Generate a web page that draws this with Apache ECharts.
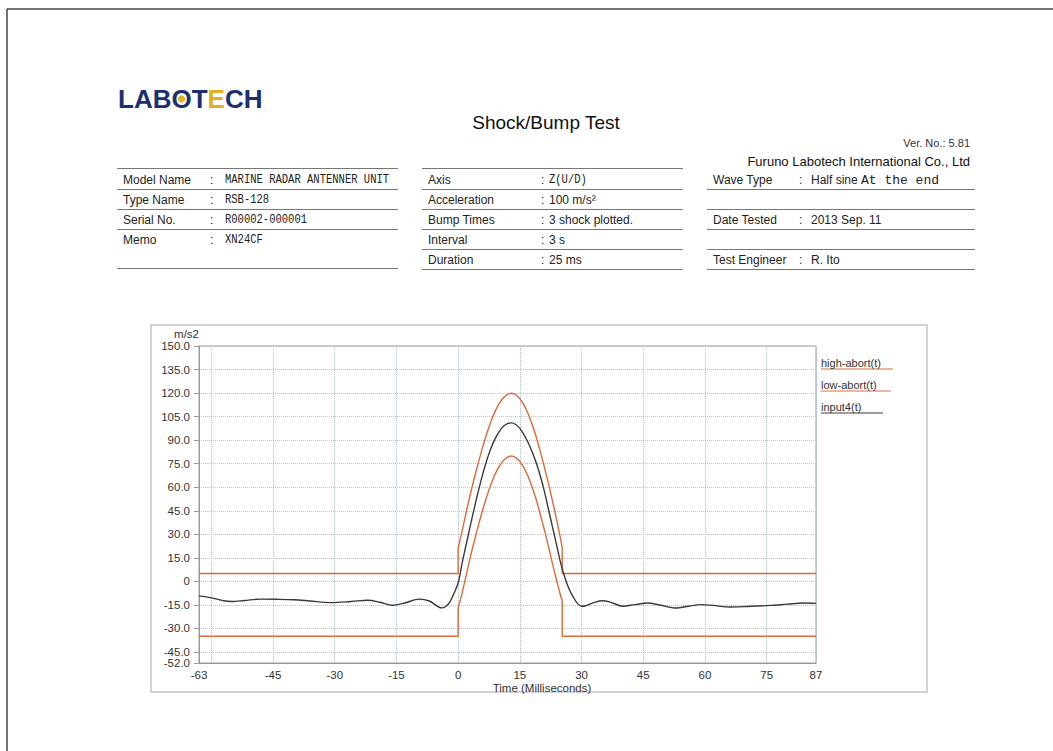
<!DOCTYPE html>
<html><head><meta charset="utf-8">
<script src="https://cdn.jsdelivr.net/npm/echarts@6/dist/echarts.min.js"></script>
<style>html,body{margin:0;padding:0;background:#fff}#c{width:1053px;height:751px}</style>
</head><body><div id="c"></div><script>
// ---- axis ticks ----
const xLabelTicks = [-63, -45, -30, -15, 0, 15, 30, 45, 60, 75, 87];
const xGridTicks = [-63, -60, -45, -30, -15, 0, 15, 30, 45, 60, 75, 87];
const yTicks = [-52, -45, -30, -15, 0, 15, 30, 45, 60, 75, 90, 105, 120, 135, 150];
const yLabelTicks = [-45, -30, -15, 0, 15, 30, 45, 60, 75, 90, 105, 120, 135, 150];
const yMinLabel = [-52];

// ---- series: high-abort(t) ----
const highTime = [-63, 0, 0, 1, 2, 3, 4, 5, 6, 7, 8, 9, 10, 11, 12, 13, 14, 15, 16, 17, 18, 19, 20, 21, 22, 23, 24, 25, 25.3, 25.3, 87];
const highValues = [5, 5, 21, 32.5, 44.5, 56, 66.5, 76.5, 86, 94.5, 102, 108.5, 113.5, 117, 119.3, 120, 119, 116.5, 112.5, 107, 100, 92, 82.5, 72.5, 62, 50.5, 38.5, 26, 21.5, 5, 5];

// ---- series: low-abort(t) ----
const lowTime = [-63, 0, 0, 1, 2, 3, 4, 5, 6, 7, 8, 9, 10, 11, 12, 13, 14, 15, 16, 17, 18, 19, 20, 21, 22, 23, 24, 25, 25.3, 25.3, 87];
const lowValues = [-35, -35, -17, -7, 4.5, 16, 26.5, 36.5, 46, 54.5, 62, 68.5, 73.5, 77, 79.3, 80, 79, 76.5, 72.5, 67, 60, 52, 42.5, 32.5, 22, 10.5, 0, -10, -12, -35, -35];

// ---- series: input4(t) ----
const inputTime = [-63, -60, -57, -55, -52, -48, -44, -40, -36, -31, -26, -22, -19, -16, -13, -9.5, -7, -4, -3, -2, -1, 0, 1, 2, 3, 4, 5, 6, 7, 8, 9, 10, 11, 12, 13, 14, 15, 16, 17, 18, 19, 20, 21, 22, 23, 24, 25, 26, 27, 28, 29, 30, 31, 33, 35, 37, 40, 43, 46, 49, 53, 56, 59, 62, 66, 70, 76, 80, 84, 87];
const inputValues = [-9.2, -10.5, -12.3, -12.8, -12.2, -11.3, -11.4, -11.7, -12.5, -13.5, -12.8, -12, -13.3, -15.2, -13.8, -11.3, -12.5, -16.9, -16, -13, -7.5, -1, 12, 24, 36, 47.5, 58.5, 68.5, 77.5, 85, 91, 95.5, 98.8, 100.6, 101, 100, 97.5, 93.5, 88.5, 82.5, 75.5, 67, 57, 45.5, 34, 22.5, 11, 2, -5, -10, -14, -15.8, -15.5, -13.5, -12.3, -13.2, -15.8, -14.8, -13.8, -15, -17, -15.8, -14.8, -15.3, -16.3, -16, -15.3, -14.5, -13.8, -14];

const seriesNames = ['high-abort(t)', 'low-abort(t)', 'input4(t)'];

// ---- header texts ----
const leftLabels = ['Model Name', 'Type Name', 'Serial No.', 'Memo'];
const leftValues = ['MARINE RADAR ANTENNER UNIT', 'RSB-128', 'R00002-000001', 'XN24CF'];
const midLabels = ['Axis', 'Acceleration', 'Bump Times', 'Interval', 'Duration'];
const midValues = ['Z(U/D)', '100 m/s²', '3 shock plotted.', '3 s', '25 ms'];
const rightLabels = ['Wave Type', '', 'Date Tested', '', 'Test Engineer'];
const rightValues = ['Half sine |At the end', '', '2013 Sep. 11', '', 'R. Ito'];
const titleText = 'Shock/Bump Test';
const versionText = 'Ver. No.: 5.81';
const companyText = 'Furuno Labotech International Co., Ltd';
const xAxisTitle = 'Time (Milliseconds)';
const yAxisTitle = 'm/s2';

const ORANGE = '#d96a3a';
const DARK = '#3a3a3a';
const SANS = '"Liberation Sans", Arial, sans-serif';
const MONO = '"Liberation Mono", monospace';

function zip(a, b) { return a.map((t, i) => [t, b[i]]); }
function T(x, y, text, o) {
  return { type: 'text', x: x, y: y, silent: true, z: 10,
    style: Object.assign({ text: text, fill: '#222', fontSize: 12, fontFamily: SANS, align: 'left', verticalAlign: 'middle' }, o || {}) };
}
function L(x1, y1, x2, y2, c, w) {
  return { type: 'line', silent: true, z: 5, shape: { x1: x1, y1: y1, x2: x2, y2: y2 }, style: { stroke: c || '#777', lineWidth: w || 1 } };
}

const g = [];
// page border
g.push(L(7, 9, 1053, 9, '#444', 1.5));
g.push(L(7, 9, 7, 751, '#444', 1.5));
// chart box
g.push({ type: 'rect', silent: true, z: 0, shape: { x: 151, y: 325, width: 776, height: 367 }, style: { fill: 'none', stroke: '#c4c4c4', lineWidth: 1.5 } });

// logo
g.push({ type: 'text', x: 118, y: 99, silent: true, z: 10, style: {
  text: '{n|LABOT}{y|E}{n|CH}', verticalAlign: 'middle', align: 'left',
  rich: { n: { fill: '#1c2f6e', fontSize: 26, fontWeight: 'bold', fontFamily: SANS },
          y: { fill: '#e2b025', fontSize: 26, fontWeight: 'bold', fontFamily: SANS } } } });
g.push({ type: 'circle', silent: true, z: 11, shape: { cx: 181.5, cy: 99, r: 3.6 }, style: { fill: '#e2b025' } });

// title & company
g.push(T(546, 122, titleText, { fontSize: 19, align: 'center', fill: '#111' }));
g.push(T(970, 143, versionText, { fontSize: 11, align: 'right', fill: '#333' }));
g.push(T(970, 161, companyText, { fontSize: 13, align: 'right', fill: '#111' }));

// left table
g.push(L(117, 168.5, 398, 168.5));
leftLabels.forEach((s, i) => {
  const y = 180 + 20 * i;
  g.push(T(123, y, s));
  g.push(T(210, y, ':'));
  const v = T(225, y, leftValues[i], { fontFamily: MONO, fontSize: 13.5 });
  v.scaleX = 0.78;
  g.push(v);
  if (i < 3) g.push(L(117, y + 9.5, 398, y + 9.5));
});
g.push(L(117, 268.5, 398, 268.5));

// middle table
g.push(L(422, 168.5, 683, 168.5));
midLabels.forEach((s, i) => {
  const y = 180 + 20 * i;
  g.push(T(428, y, s));
  g.push(T(541, y, ':'));
  const v = T(549, y, midValues[i], i === 0 ? { fontFamily: MONO, fontSize: 13.5 } : {});
  if (i === 0) v.scaleX = 0.78;
  g.push(v);
  g.push(L(422, y + 9.5, 683, y + 9.5));
});

// right table
rightLabels.forEach((s, i) => {
  const y = 180 + 20 * i;
  if (s) {
    g.push(T(713, y, s));
    g.push(T(799, y, ':'));
    const parts = rightValues[i].split('|');
    if (parts.length > 1) {
      g.push(T(811, y, '{a|' + parts[0] + '}{b|' + parts[1] + '}', {
        rich: { a: { fontSize: 12, fontFamily: SANS, fill: '#222' }, b: { fontSize: 13, fontFamily: MONO, fill: '#222' } } }));
    } else {
      g.push(T(811, y, parts[0]));
    }
  }
  g.push(L(707, y + 9.5, 975, y + 9.5));
});

// legend
const legendColors = [ORANGE, ORANGE, DARK];
const legendEnds = [893, 891, 883];
seriesNames.forEach((s, i) => {
  const y = 363 + 22 * i;
  g.push(T(821, y, s, { fontSize: 11, fill: '#333' }));
  g.push(L(821, y + 6, legendEnds[i], y + 6, legendColors[i], 1.2));
});

// axis titles
g.push(T(542, 688, xAxisTitle, { fontSize: 11.5, align: 'center', fill: '#333' }));

const yLabelFmt = v => (v === 0 ? '0' : v.toFixed(1));

const chart = echarts.init(document.getElementById('c'), null, { renderer: 'svg', width: 1053, height: 751 });
chart.setOption({
  backgroundColor: '#ffffff',
  animation: false,
  grid: { left: 199, right: 237, top: 346, bottom: 88, show: true, borderColor: '#9a9a9a', borderWidth: 1, outerBoundsMode: 'none' },
  xAxis: {
    type: 'value', min: -63, max: 87,
    axisLine: { show: true, onZero: false, lineStyle: { color: '#999', width: 1 } },
    axisTick: { show: false, customValues: xGridTicks },
    axisLabel: { customValues: xLabelTicks, color: '#333', fontSize: 11.5, fontFamily: SANS, margin: 6, showMinLabel: true, showMaxLabel: true },
    splitLine: { show: true, lineStyle: { color: '#b0bdc6', type: 'dotted', width: 1 } }
  },
  yAxis: [{
    type: 'value', min: -52, max: 150, position: 'left',
    name: yAxisTitle, nameLocation: 'end', nameGap: 4,
    nameTextStyle: { color: '#333', fontSize: 11.5, fontFamily: SANS, align: 'right', verticalAlign: 'bottom' },
    axisLine: { show: true, onZero: false, lineStyle: { color: '#999', width: 1 } },
    axisTick: { show: true, length: 5, customValues: yTicks, lineStyle: { color: '#999' } },
    axisLabel: { customValues: yLabelTicks, color: '#333', fontSize: 11.5, fontFamily: SANS, margin: 9,
      showMinLabel: true, showMaxLabel: true, hideOverlap: false, formatter: yLabelFmt },
    splitLine: { show: true, lineStyle: { color: '#b8c3ca', type: 'dotted', width: 1 } }
  }, {
    type: 'value', min: -52, max: 150, position: 'left', offset: 0,
    axisLine: { show: false, onZero: false },
    axisTick: { show: false, customValues: yMinLabel },
    axisLabel: { customValues: yMinLabel, color: '#333', fontSize: 11.5, fontFamily: SANS, margin: 9,
      showMinLabel: true, formatter: yLabelFmt },
    splitLine: { show: false }
  }],
  series: [
    { type: 'line', name: seriesNames[0], data: zip(highTime, highValues), symbol: 'none', z: 3,
      lineStyle: { color: ORANGE, width: 1.4 }, itemStyle: { color: ORANGE } },
    { type: 'line', name: seriesNames[1], data: zip(lowTime, lowValues), symbol: 'none', z: 3,
      lineStyle: { color: ORANGE, width: 1.4 }, itemStyle: { color: ORANGE } },
    { type: 'line', name: seriesNames[2], data: zip(inputTime, inputValues), symbol: 'none', smooth: 0.35, z: 4,
      lineStyle: { color: DARK, width: 1.4 }, itemStyle: { color: DARK } }
  ],
  graphic: g
});
</script></body></html>
